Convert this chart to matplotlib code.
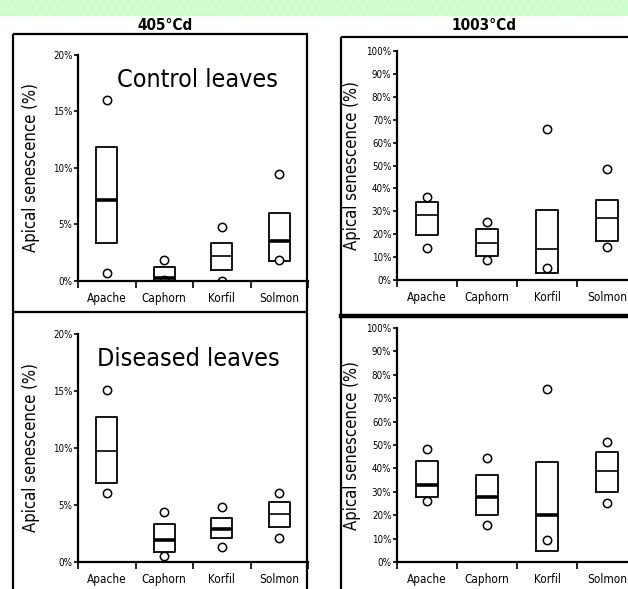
import numpy as np
import matplotlib.pyplot as plt
from matplotlib.patches import Rectangle
from matplotlib.lines import Line2D

plt.rcParams['font.family'] = ['DejaVu Sans']
plt.rcParams['font.stretch'] = 'condensed'

# data, values in %
varieties = ['Apache', 'Caphorn', 'Korfil', 'Solmon']

# 405 degree-days, control leaves
c405_q1 = [3.4, 0.0, 1.0, 1.8]
c405_q3 = [11.9, 1.2, 3.4, 6.0]
c405_med = [7.2, 0.3, 2.2, 3.5]
c405_hi = [16.0, 1.9, 4.8, 9.5]
c405_lo = [0.7, 0.05, 0.0, 1.9]
c405_thick = [True, True, False, True]

# 405 degree-days, diseased leaves
d405_q1 = [6.9, 0.9, 2.1, 3.1]
d405_q3 = [12.7, 3.3, 3.9, 5.3]
d405_med = [9.7, 1.9, 2.9, 4.2]
d405_hi = [15.1, 4.4, 4.8, 6.05]
d405_lo = [6.05, 0.5, 1.3, 2.1]
d405_thick = [False, True, True, False]

# 1003 degree-days, control leaves
c1003_q1 = [19.6, 10.6, 2.9, 17.2]
c1003_q3 = [34.2, 22.2, 30.5, 34.9]
c1003_med = [28.3, 16.0, 13.4, 27.2]
c1003_hi = [36.3, 25.4, 66.0, 48.3]
c1003_lo = [13.8, 8.7, 5.1, 14.2]
c1003_thick = [False, False, False, False]

# 1003 degree-days, diseased leaves
d1003_q1 = [27.6, 20.2, 4.5, 30.1]
d1003_q3 = [43.2, 37.2, 42.9, 47.2]
d1003_med = [33.0, 27.8, 19.9, 39.1]
d1003_hi = [48.3, 44.6, 73.9, 51.1]
d1003_lo = [26.1, 15.6, 9.5, 25.4]
d1003_thick = [True, True, True, False]

W, H = 628, 589
fig = plt.figure(figsize=(W / 100, H / 100), dpi=100)

# background layer in pixel coordinates
bg = fig.add_axes([0, 0, 1, 1])
bg.set_xlim(0, W)
bg.set_ylim(H, 0)
bg.axis('off')
bg.add_patch(Rectangle((0, 0), W, 16, facecolor='#ccffcc', edgecolor='#f4f4d8',
                       hatch='..', linewidth=0))

# frames
frame = dict(color='black', lw=1.6, solid_capstyle='butt')
bg.add_line(Line2D([13, 308], [34, 34], **frame))
bg.add_line(Line2D([13, 13], [34, H], **frame))
bg.add_line(Line2D([307, 307], [34, H], **frame))
bg.add_line(Line2D([13, 307], [312, 312], **frame))
bg.add_line(Line2D([341, W], [37, 37], **frame))
bg.add_line(Line2D([341, 341], [37, H], **frame))
bg.add_line(Line2D([341, W], [316, 316], color='black', lw=3.2))

bg.text(165, 26, '405°Cd', ha='center', va='center', fontsize=11, fontweight='bold')
bg.text(484, 26, '1003°Cd', ha='center', va='center', fontsize=11, fontweight='bold')


def px_axes(x0, x1, ytop, ybot):
    return fig.add_axes([x0 / W, 1 - ybot / H, (x1 - x0) / W, (ybot - ytop) / H])


def panel(ax, q1, q3, med, hi, lo, thick, ymax, ystep, ylab_x):
    stats = []
    for i in range(len(varieties)):
        stats.append({'q1': q1[i], 'q3': q3[i], 'med': med[i],
                      'whislo': q1[i], 'whishi': q3[i],
                      'fliers': [hi[i], lo[i]]})
    bp = ax.bxp(stats, positions=np.arange(1, 5), widths=0.37, showcaps=False,
                boxprops=dict(color='black', lw=1.3),
                whiskerprops=dict(lw=0),
                medianprops=dict(color='black', lw=1.2),
                flierprops=dict(marker='o', markerfacecolor='white',
                                markeredgecolor='black', markersize=6,
                                markeredgewidth=1.1))
    for ln, t in zip(bp['medians'], thick):
        if t:
            ln.set_linewidth(2.6)
    ax.set_xlim(0.5, 4.5)
    ax.set_ylim(0, ymax)
    for s in ['top', 'right']:
        ax.spines[s].set_visible(False)
    for s in ['left', 'bottom']:
        ax.spines[s].set_linewidth(1.6)
    ax.set_xticks(np.arange(1, 5))
    ax.set_xticklabels(varieties, fontsize=8.5)
    ax.set_xticks(np.arange(0.5, 5.0, 1.0), minor=True)
    ax.tick_params(axis='x', which='major', length=0, pad=8)
    ax.tick_params(axis='x', which='minor', length=5, width=1.2, direction='out')
    yt = np.arange(0, ymax + 0.1, ystep)
    ax.set_yticks(yt)
    ax.set_yticklabels(['%d%%' % v for v in yt], fontsize=7)
    ax.tick_params(axis='y', length=3, width=1.2, pad=1)
    ax.patch.set_alpha(0)
    ax.set_ylabel('Apical senescence (%)', fontsize=12)
    ax.yaxis.set_label_coords(ylab_x, 0.5)
    return ax


a1 = panel(px_axes(78, 308, 55, 281), c405_q1, c405_q3, c405_med, c405_hi, c405_lo,
           c405_thick, 20, 5, -0.165)
a1.text(0.52, 0.89, 'Control leaves', transform=a1.transAxes, ha='center',
        va='center', fontsize=18)

a2 = panel(px_axes(397, 637, 51, 280), c1003_q1, c1003_q3, c1003_med, c1003_hi,
           c1003_lo, c1003_thick, 100, 10, -0.15)

a3 = panel(px_axes(78, 308, 334, 562), d405_q1, d405_q3, d405_med, d405_hi, d405_lo,
           d405_thick, 20, 5, -0.165)
a3.text(0.48, 0.89, 'Diseased leaves', transform=a3.transAxes, ha='center',
        va='center', fontsize=18)

a4 = panel(px_axes(397, 637, 328, 562), d1003_q1, d1003_q3, d1003_med, d1003_hi,
           d1003_lo, d1003_thick, 100, 10, -0.15)

fig.savefig('out.png', dpi=100)
